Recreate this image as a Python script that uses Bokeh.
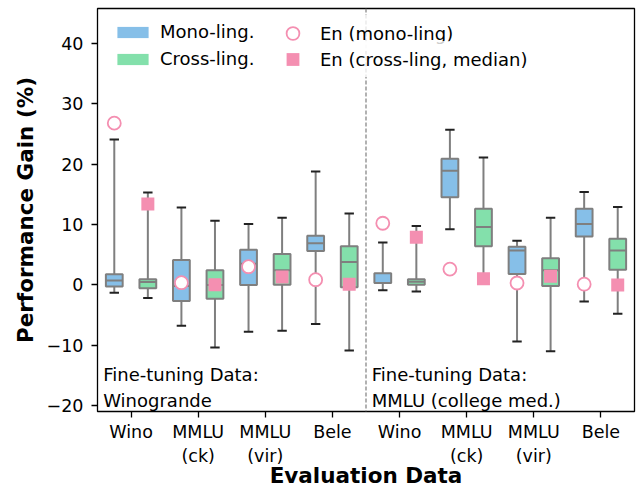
import numpy as np
from bokeh.plotting import figure
from bokeh.models import (ColumnDataSource, Range1d, FixedTicker, Span, Label,
                          Legend, LegendItem)
from bokeh.embed import file_html
from bokeh.resources import INLINE

# ---------------- data ----------------
tick_labels = ["Wino", "MMLU\n(ck)", "MMLU\n(vir)", "Bele",
               "Wino", "MMLU\n(ck)", "MMLU\n(vir)", "Bele"]
positions = [1, 2, 3, 4, 5, 6, 7, 8]

mono_whislo = [-1.3, -6.8, -7.8, -6.5, -0.9, 9.2, -9.4, -2.75]
mono_q1 = [-0.3, -2.7, -0.05, 5.6, 0.28, 14.5, 1.8, 8.0]
mono_med = [0.7, -0.2, 3.5, 6.9, 0.3, 18.9, 5.7, 10.1]
mono_q3 = [1.75, 4.1, 5.8, 8.15, 1.9, 20.9, 6.3, 12.6]
mono_whishi = [24.1, 12.8, 10.1, 18.8, 7.0, 25.7, 7.3, 15.4]

cross_whislo = [-2.2, -10.4, -7.6, -10.9, -1.1, 1.2, -11.0, -4.8]
cross_q1 = [-0.55, -2.3, 0.0, -0.4, 0.0, 6.4, -0.2, 2.5]
cross_med = [0.45, -0.05, 2.4, 3.8, 0.5, 9.6, 2.4, 5.7]
cross_q3 = [0.94, 2.4, 5.1, 6.4, 0.94, 12.6, 4.4, 7.65]
cross_whishi = [15.3, 10.6, 11.1, 11.8, 9.75, 21.1, 11.1, 12.9]

en_mono = [26.8, 0.35, 3.0, 0.85, 10.2, 2.6, 0.3, 0.1]
en_cross = [13.4, 0.0, 1.3, 0.1, 7.9, 1.0, 1.4, -0.05]

y_ticks = [-20, -10, 0, 10, 20, 30, 40]

# ---------------- style ----------------
FONT = "DejaVu Sans"
BLUE = "#86bfe8"
GREEN = "#83e0ab"
PINK = "#f48fb1"
EDGE = "#7f7f7f"

p = figure(width=637, height=491, output_backend="svg", toolbar_location=None,
           x_range=Range1d(0.5, 8.5), y_range=Range1d(-21, 45.8),
           min_border_left=97, min_border_right=3, min_border_top=8,
           min_border_bottom=80)
p.xgrid.visible = False
p.ygrid.visible = False
p.outline_line_color = "black"
p.outline_line_width = 1.3
p.background_fill_color = "white"
p.border_fill_color = "white"

off = 0.25
bw = 0.25
cap = 0.07


def draw_boxes(xs, lo, q1, med, q3, hi, color):
    xs = np.asarray(xs, dtype=float)
    src = ColumnDataSource(dict(x=xs, lo=lo, q1=q1, med=med, q3=q3, hi=hi,
                                x0=xs - bw / 2, x1=xs + bw / 2,
                                c0=xs - cap, c1=xs + cap))
    p.segment(x0="x", y0="lo", x1="x", y1="hi", source=src,
              line_color=EDGE, line_width=2)
    p.vbar(x="x", width=bw, top="q3", bottom="q1", source=src,
           fill_color=color, line_color=EDGE, line_width=2)
    p.segment(x0="x0", y0="med", x1="x1", y1="med", source=src,
              line_color=EDGE, line_width=2)
    p.segment(x0="c0", y0="hi", x1="c1", y1="hi", source=src,
              line_color="#222222", line_width=2)
    p.segment(x0="c0", y0="lo", x1="c1", y1="lo", source=src,
              line_color="#222222", line_width=2)


pos = np.asarray(positions, dtype=float)
draw_boxes(pos - off, mono_whislo, mono_q1, mono_med, mono_q3, mono_whishi, BLUE)
draw_boxes(pos + off, cross_whislo, cross_q1, cross_med, cross_q3, cross_whishi, GREEN)

p.scatter(x=pos - off, y=en_mono, marker="circle", size=13,
          fill_color="white", line_color=PINK, line_width=1.8)
p.scatter(x=pos + off, y=en_cross, marker="square", size=13,
          fill_color=PINK, line_color=None)

# divider
p.add_layout(Span(location=4.5, dimension="height", line_color="#888888",
                  line_dash="4 2", line_width=1.3))

# legend proxies (placed far outside the visible range)
r_mono = p.rect(x=[-100], y=[-100], width=1, height=1, fill_color=BLUE, line_color=None)
r_cross = p.rect(x=[-100], y=[-100], width=1, height=1, fill_color=GREEN, line_color=None)
lg_m = p.scatter(x=[-100], y=[-100], marker="circle", size=13, fill_color="white",
                 line_color=PINK, line_width=1.8)
lg_c = p.scatter(x=[-100], y=[-100], marker="square", size=13, fill_color=PINK,
                 line_color=None)


def make_legend(items, loc, glyph_h, spacing, padding):
    lg = Legend(items=items, location=loc)
    lg.label_text_font = FONT
    lg.label_text_font_size = "18px"
    lg.label_text_color = "black"
    lg.label_height = 20
    lg.glyph_height = glyph_h
    lg.glyph_width = 39
    lg.label_standoff = 8
    lg.spacing = spacing
    lg.padding = padding
    lg.margin = 0
    lg.background_fill_color = "white"
    lg.background_fill_alpha = 0.8
    lg.border_line_alpha = 0
    p.add_layout(lg, "center")


make_legend([LegendItem(label="Mono-ling.", renderers=[r_mono]),
             LegendItem(label="Cross-ling.", renderers=[r_cross])], (8, 334), 14, 6, 8)
make_legend([LegendItem(label="En (mono-ling)", renderers=[lg_m])],
            (174, 360), 32, 0, 2)
make_legend([LegendItem(label="En (cross-ling, median)", renderers=[lg_c])],
            (174, 334), 32, 0, 2)

# annotations
for xx, txt in [(0.585, "Fine-tuning Data:\nWinogrande"),
                (4.585, "Fine-tuning Data:\nMMLU (college med.)")]:
    p.add_layout(Label(x=xx, y=-20.85, text=txt, text_font=FONT,
                       text_font_size="18px", text_baseline="bottom",
                       text_align="left", text_color="black"))

# axes
p.xaxis.ticker = FixedTicker(ticks=positions)
p.xaxis.major_label_overrides = {k: v for k, v in zip(positions, tick_labels)}
p.yaxis.ticker = FixedTicker(ticks=y_ticks)
p.yaxis.major_label_overrides = {t: (str(t).replace("-", "\u2212")) for t in y_ticks}

for ax in (p.xaxis[0], p.yaxis[0]):
    ax.axis_line_color = None
    ax.major_tick_line_color = "black"
    ax.major_tick_line_width = 1.3
    ax.major_tick_out = 6
    ax.major_tick_in = 0
    ax.minor_tick_line_color = None
    ax.major_label_text_font = FONT
    ax.major_label_text_font_size = "17.5px"
    ax.major_label_text_color = "black"
    ax.axis_label_text_font = FONT
    ax.axis_label_text_font_size = "21.5px"
    ax.axis_label_text_font_style = "bold"
    ax.axis_label_text_color = "black"

p.xaxis.axis_label = "Evaluation Data"
p.yaxis.axis_label = "Performance Gain (%)"
p.xaxis.major_label_standoff = 4
p.xaxis.axis_label_standoff = -6
p.yaxis.major_label_standoff = 8
p.yaxis.axis_label_standoff = 6

open("out.html", "w").write(file_html(p, INLINE))
